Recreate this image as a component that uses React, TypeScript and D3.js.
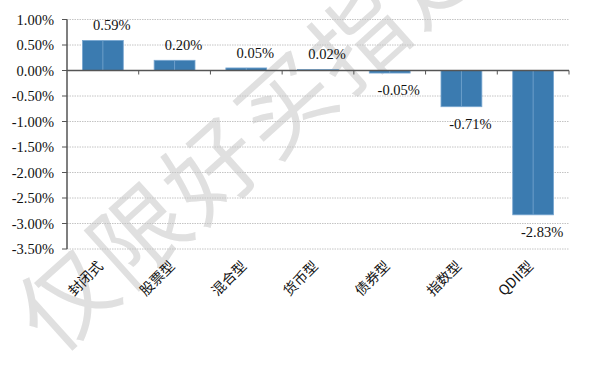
import React from "react";
import * as d3 from "d3";

const categories = ["封闭式", "股票型", "混合型", "货币型", "债券型", "指数型", "QDII型"];
const values = [0.59, 0.2, 0.05, 0.02, -0.05, -0.71, -2.83];
const yTicks = [1.0, 0.5, 0.0, -0.5, -1.0, -1.5, -2.0, -2.5, -3.0, -3.5];
const watermarkChars = ["仅", "限", "好", "买", "指", "定"];

export default function App() {
  const W = 600, H = 382;
  const left = 67, right = 569, top = 19.5, bottom = 249;
  const x = d3.scaleBand<string>().domain(categories).range([left, right]).paddingInner(0.43).paddingOuter(0.215);
  const band = d3.scaleBand<string>().domain(categories).range([left, right]);
  const y = d3.scaleLinear().domain([-3.5, 1.0]).range([bottom, top]);
  const serif = "'Liberation Serif', 'Times New Roman', serif";
  const cjk = "'Noto Sans CJK SC', sans-serif";
  const fmt = (v: number) => v.toFixed(2) + "%";
  const boundaries = d3.range(categories.length + 1).map((i) => left + i * band.step());
  return (
    <svg width={W} height={H} style={{ position: "absolute", left: 0, top: 0, background: "#fff" }}>
      {watermarkChars.map((ch, i) => {
        const wx = 62 + i * 73;
        const wy = 295 - i * 65;
        return (
          <text
            key={i}
            x={wx}
            y={wy}
            textAnchor="middle"
            dominantBaseline="central"
            fontFamily={cjk}
            fontWeight={400}
            fontSize={94}
            fill="#e0e0e0"
            transform={`rotate(-42 ${wx} ${wy})`}
          >
            {ch}
          </text>
        );
      })}
      {yTicks.map((t) => (
        <g key={t}>
          <line x1={left} x2={right} y1={y(t)} y2={y(t)} stroke="#c4c4c4" strokeWidth={1} strokeDasharray="1.5,1" />
          <line x1={left - 5} x2={left} y1={y(t)} y2={y(t)} stroke="#555" strokeWidth={1} />
          <text x={54} y={y(t)} dy="0.35em" textAnchor="end" fontFamily={serif} fontSize={14.5} fill="#111">
            {fmt(t)}
          </text>
        </g>
      ))}
      {values.map((v, i) => {
        const c = categories[i];
        const x0 = x(c)!;
        const bw = x.bandwidth();
        const y0 = Math.min(y(v), y(0));
        const h = Math.abs(y(v) - y(0));
        const cx = x0 + bw / 2;
        return (
          <g key={c}>
            <rect x={x0} y={y0} width={bw} height={h} fill="#3B7BB0" stroke="#79a7d1" strokeWidth={0.8} />
            <line x1={cx} x2={cx} y1={y0} y2={y0 + h} stroke="#79a7d1" strokeWidth={0.8} />
            <text
              x={cx + 9}
              y={v >= 0 ? y(v) - 10 : y(v) + 22}
              textAnchor="middle"
              fontFamily={serif}
              fontSize={14.5}
              fill="#111"
            >
              {fmt(v)}
            </text>
          </g>
        );
      })}
      <line x1={left} x2={right} y1={y(0)} y2={y(0)} stroke="#555" strokeWidth={1.5} />
      {boundaries.slice(1).map((b, i) => (
        <line key={i} x1={b} x2={b} y1={y(0)} y2={y(0) + 4} stroke="#555" strokeWidth={1} />
      ))}
      <line x1={left} x2={left} y1={top} y2={bottom} stroke="#555" strokeWidth={1.5} />
      {categories.map((c) => {
        const cx = band(c)! + band.bandwidth() / 2 + 1;
        const cy = 267;
        return (
          <text key={c} x={cx} y={cy} textAnchor="end" fontFamily={cjk} fontSize={14} fill="#111" transform={`rotate(-45 ${cx} ${cy})`}>
            {c}
          </text>
        );
      })}
    </svg>
  );
}
